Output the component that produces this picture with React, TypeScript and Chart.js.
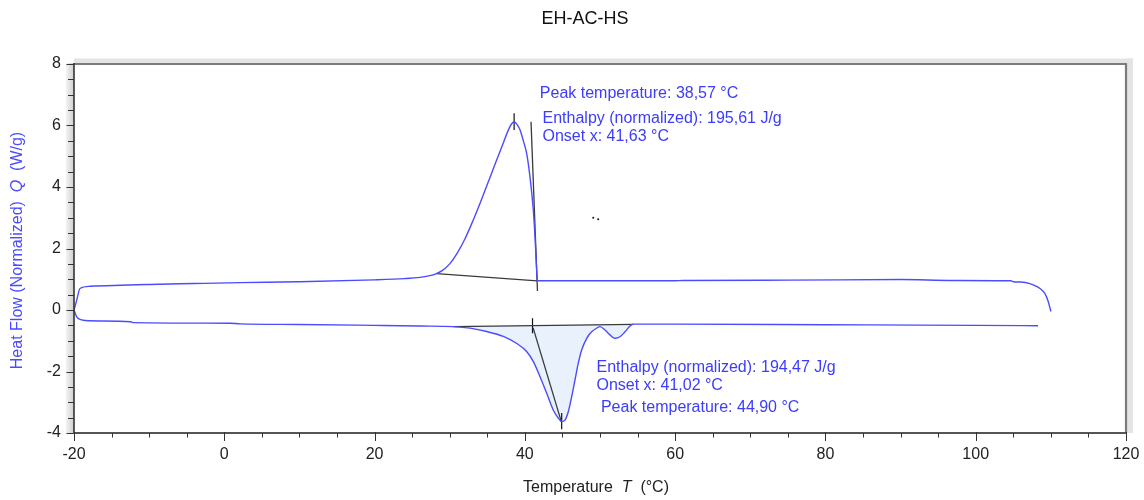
import React, { useEffect, useRef } from "react";
import { Chart, registerables } from "chart.js";

Chart.register(...registerables);

// Upper trace (crystallization on cooling): temperature (°C) and heat flow (W/g)
const upperTemp = [
  -20, -19.64, -19.2, -17.87, -10, -4.1, 2.1, 10, 20, 24, 26.04, 27, 28, 29, 30, 31, 32, 33, 34, 35, 36,
  37, 37.8, 38.2, 38.57, 39.0, 39.35, 39.8, 40.24, 40.68, 41.12, 41.35, 41.57, 41.65, 42, 60, 61, 75, 90,
  97, 104.7, 105, 106, 107.2, 108, 108.55, 109.2, 109.66, 110,
];
const upperFlow = [
  0, 0.32, 0.7, 0.77, 0.83, 0.86, 0.89, 0.92, 0.98, 1.02, 1.06, 1.1, 1.16, 1.28, 1.5, 1.85, 2.3, 2.85,
  3.45, 4.08, 4.72, 5.35, 5.85, 6.04, 6.12, 6.02, 5.86, 5.5, 5.09, 4.33, 3.26, 2.38, 1.3, 0.96, 0.95,
  0.95, 0.96, 0.97, 0.99, 0.96, 0.95, 0.92, 0.91, 0.86, 0.78, 0.7, 0.54, 0.27, -0.05,
];

// Lower trace (melting on heating)
const lowerTemp = [
  -20, -19.64, -18.98, -17.87, -12.5, -12.1, 0.76, 2.1, 10, 20, 26.05, 30.48, 32.7, 34.92, 37.13, 38.92,
  40.24, 41.13, 42.02, 42.91, 43.79, 44.46, 44.9, 45.34, 45.78, 46.23, 46.67, 47.11, 47.56, 48.23, 48.89,
  49.56, 50.0, 50.67, 51.33, 52.0, 52.66, 53.33, 53.99, 54.43, 60, 80, 100, 108.3,
];
const lowerFlow = [
  0, -0.22, -0.32, -0.35, -0.38, -0.41, -0.43, -0.45, -0.47, -0.5, -0.52, -0.54, -0.59, -0.7, -0.86, -1.09,
  -1.35, -1.68, -2.17, -2.71, -3.26, -3.52, -3.63, -3.58, -3.31, -2.82, -2.28, -1.73, -1.3, -0.92, -0.71,
  -0.59, -0.54, -0.65, -0.81, -0.92, -0.87, -0.71, -0.52, -0.46, -0.46, -0.48, -0.5, -0.51,
];

// Evaluation constructions (baselines, onset tangents, peak markers)
const upperBaselineTemp = [28.27, 41.65];
const upperBaselineFlow = [1.18, 0.95];
const upperTangentTemp = [40.82, 41.68];
const upperTangentFlow = [6.12, 0.62];
const upperPeakTemp = [38.57, 38.57];
const upperPeakFlow = [6.4, 5.85];

const lowerBaselineTemp = [30.48, 54.43];
const lowerBaselineFlow = [-0.54, -0.47];
const lowerTangentTemp = [41.1, 44.85];
const lowerTangentFlow = [-0.58, -3.63];
const lowerOnsetTemp = [41.02, 41.02];
const lowerOnsetFlow = [-0.27, -0.76];
const lowerPeakTemp = [44.9, 44.9];
const lowerPeakFlow = [-3.35, -3.88];

const strayTemp = [49.1, 49.76];
const strayFlow = [3.0, 2.95];

// Axis ranges and tick steps
const xMin = -20;
const xMax = 120;
const xMajorStep = 20;
const xMinorStep = 5;
const yMin = -4;
const yMax = 8;
const yMajorStep = 2;
const yMinorStep = 0.5;

// Result labels, anchored in data units
const resultLabels = [
  { text: "Peak temperature: 38,57 °C", t: 41.99, q: 6.88 },
  { text: "Enthalpy (normalized): 195,61 J/g", t: 42.35, q: 6.07 },
  { text: "Onset x: 41,63 °C", t: 42.35, q: 5.5 },
  { text: "Enthalpy (normalized): 194,47 J/g", t: 49.53, q: -2.01 },
  { text: "Onset x: 41,02 °C", t: 49.53, q: -2.6 },
  { text: " Peak temperature: 44,90 °C", t: 49.53, q: -3.31 },
];

const FONT = '"Liberation Sans", Arial, sans-serif';
const CURVE = "#4b4bff";
const LABEL_BLUE = "#3c3cff";
const CONSTRUCT = "#3a3a3a";

const pts = (xs: number[], ys: number[]) => xs.map((x, i) => ({ x, y: ys[i] }));

const decorPlugin = {
  id: "decor",
  afterDraw(chart: any) {
    const { ctx, chartArea: a, scales } = chart;
    const xs = scales.x;
    const ys = scales.y;
    ctx.save();

    // light outer band of the plot frame (top and right)
    ctx.fillStyle = "#e4e4e4";
    ctx.fillRect(a.left, a.top - 5.5, a.right - a.left + 7, 5);
    ctx.fillRect(a.right + 1, a.top - 5.5, 6, a.bottom - a.top + 5.5);

    // dark frame line
    ctx.strokeStyle = "#7c7c7c";
    ctx.lineWidth = 2.2;
    ctx.beginPath();
    ctx.moveTo(a.left, a.top);
    ctx.lineTo(a.right, a.top);
    ctx.lineTo(a.right, a.bottom);
    ctx.stroke();

    // shaded band left of the value axis
    const g = ctx.createLinearGradient(a.left - 8, 0, a.left, 0);
    g.addColorStop(0, "#f3f3f3");
    g.addColorStop(1, "#cfcfcf");
    ctx.fillStyle = g;
    ctx.fillRect(a.left - 8, a.top - 1, 8, a.bottom - a.top + 1);

    // axis lines
    ctx.strokeStyle = "#333";
    ctx.lineWidth = 1.6;
    ctx.beginPath();
    ctx.moveTo(a.left, a.top - 1);
    ctx.lineTo(a.left, a.bottom + 1);
    ctx.stroke();
    ctx.strokeStyle = "#555";
    ctx.lineWidth = 2;
    ctx.beginPath();
    ctx.moveTo(a.left - 1, a.bottom);
    ctx.lineTo(a.right + 1, a.bottom);
    ctx.stroke();

    // ticks
    ctx.strokeStyle = "#333";
    ctx.lineWidth = 1;
    ctx.beginPath();
    for (let v = xMin; v <= xMax + 1e-9; v += xMinorStep) {
      const px = Math.round(xs.getPixelForValue(v)) + 0.5;
      const major = Math.abs(v % xMajorStep) < 1e-9;
      ctx.moveTo(px, a.bottom - (major ? 1 : 0));
      ctx.lineTo(px, a.bottom + (major ? 8 : 4.5));
    }
    for (let v = yMin; v <= yMax + 1e-9; v += yMinorStep) {
      const py = Math.round(ys.getPixelForValue(v)) + 0.5;
      const major = Math.abs(v % yMajorStep) < 1e-9;
      ctx.moveTo(a.left - (major ? 7.5 : 6), py);
      ctx.lineTo(a.left, py);
    }
    ctx.stroke();

    // chart title
    ctx.fillStyle = "#111";
    ctx.font = `18px ${FONT}`;
    ctx.textAlign = "center";
    ctx.textBaseline = "alphabetic";
    ctx.fillText("EH-AC-HS", (a.left + a.right) / 2 - 15, 16);

    // axis titles with italic quantity symbols
    const drawParts = (parts: { s: string; italic?: boolean }[], cx: number, cy: number, rotate: boolean, color: string) => {
      ctx.save();
      ctx.translate(cx, cy);
      if (rotate) ctx.rotate(-Math.PI / 2);
      ctx.fillStyle = color;
      ctx.textAlign = "left";
      ctx.textBaseline = rotate ? "middle" : "alphabetic";
      let total = 0;
      const widths = parts.map((p) => {
        ctx.font = `${p.italic ? "italic " : ""}16px ${FONT}`;
        const w = ctx.measureText(p.s).width;
        total += w;
        return w;
      });
      let x0 = -total / 2;
      parts.forEach((p, i) => {
        ctx.font = `${p.italic ? "italic " : ""}16px ${FONT}`;
        ctx.fillText(p.s, x0, 0);
        x0 += widths[i];
      });
      ctx.restore();
    };
    drawParts(
      [{ s: "Temperature  " }, { s: "T", italic: true }, { s: "  (°C)" }],
      (a.left + a.right) / 2 - 4,
      483.5,
      false,
      "#222"
    );
    drawParts(
      [{ s: "Heat Flow (Normalized)  " }, { s: "Q", italic: true }, { s: "  (W/g)" }],
      9.5,
      (a.top + a.bottom) / 2 + 2,
      true,
      "#4a4aff"
    );

    // evaluation result labels
    ctx.fillStyle = LABEL_BLUE;
    ctx.font = `16px ${FONT}`;
    ctx.textAlign = "left";
    ctx.textBaseline = "alphabetic";
    resultLabels.forEach((l) => {
      ctx.fillText(l.text, xs.getPixelForValue(l.t), ys.getPixelForValue(l.q));
    });

    ctx.restore();
  },
};

export default function App() {
  const canvasRef = useRef<HTMLCanvasElement | null>(null);

  useEffect(() => {
    if (!canvasRef.current) return;
    const lineDs = (label: string, data: any[], color: string, width: number, extra: any = {}) => ({
      label,
      data,
      showLine: true,
      borderColor: color,
      borderWidth: width,
      pointRadius: 0,
      fill: false,
      ...extra,
    });

    const lowerPts = pts(lowerTemp, lowerFlow);
    const peakArea = lowerPts.filter(
      (p) => p.x >= lowerBaselineTemp[0] && p.x <= lowerBaselineTemp[1]
    );

    const chart = new Chart(canvasRef.current, {
      type: "scatter",
      data: {
        datasets: [
          lineDs("upper", pts(upperTemp, upperFlow), CURVE, 1.4, { cubicInterpolationMode: "monotone" }),
          lineDs("lower", lowerPts, CURVE, 1.4, { cubicInterpolationMode: "monotone" }),
          lineDs("upper baseline", pts(upperBaselineTemp, upperBaselineFlow), CONSTRUCT, 1.3),
          lineDs("upper tangent", pts(upperTangentTemp, upperTangentFlow), CONSTRUCT, 1.3),
          lineDs("upper peak", pts(upperPeakTemp, upperPeakFlow), "#111", 1.2),
          lineDs("lower baseline", pts(lowerBaselineTemp, lowerBaselineFlow), CONSTRUCT, 1.3),
          lineDs("lower tangent", pts(lowerTangentTemp, lowerTangentFlow), CONSTRUCT, 1.3),
          lineDs("lower onset", pts(lowerOnsetTemp, lowerOnsetFlow), "#111", 1.2),
          lineDs("lower peak", pts(lowerPeakTemp, lowerPeakFlow), "#111", 1.2),
          {
            label: "marks",
            data: pts(strayTemp, strayFlow),
            showLine: false,
            pointRadius: 1,
            pointBorderWidth: 0,
            pointBackgroundColor: "#111",
          },
          lineDs("peak area", peakArea, "rgba(0,0,0,0)", 0, {
            cubicInterpolationMode: "monotone",
            fill: 5,
            backgroundColor: "#e8f1fc",
          }),
        ],
      },
      options: {
        responsive: false,
        animation: false,
        devicePixelRatio: 1,
        layout: { padding: { top: 56, right: 18, left: 0, bottom: 0 } },
        plugins: {
          legend: { display: false },
          tooltip: { enabled: false },
          title: { display: false },
        },
        scales: {
          x: {
            type: "linear",
            min: xMin,
            max: xMax,
            grid: { display: false, drawTicks: false },
            border: { display: false },
            ticks: {
              stepSize: xMajorStep,
              color: "#222",
              font: { size: 16, family: FONT },
              padding: 12,
              maxRotation: 0,
            },
            afterFit: (s: any) => {
              s.height = 67;
              s.paddingLeft = 0;
              s.paddingRight = 0;
            },
          },
          y: {
            type: "linear",
            min: yMin,
            max: yMax,
            grid: { display: false, drawTicks: false },
            border: { display: false },
            ticks: {
              stepSize: yMajorStep,
              color: "#222",
              font: { size: 16, family: FONT },
              padding: 13,
            },
            afterFit: (s: any) => {
              s.width = 66;
              s.paddingTop = 0;
              s.paddingBottom = 0;
            },
          },
        },
      },
      plugins: [decorPlugin],
    });
    return () => chart.destroy();
  }, []);

  return (
    <div style={{ position: "fixed", left: 8, top: 8, width: 1136, height: 492 }}>
      <canvas ref={canvasRef} width={1136} height={492} style={{ display: "block" }} />
    </div>
  );
}
